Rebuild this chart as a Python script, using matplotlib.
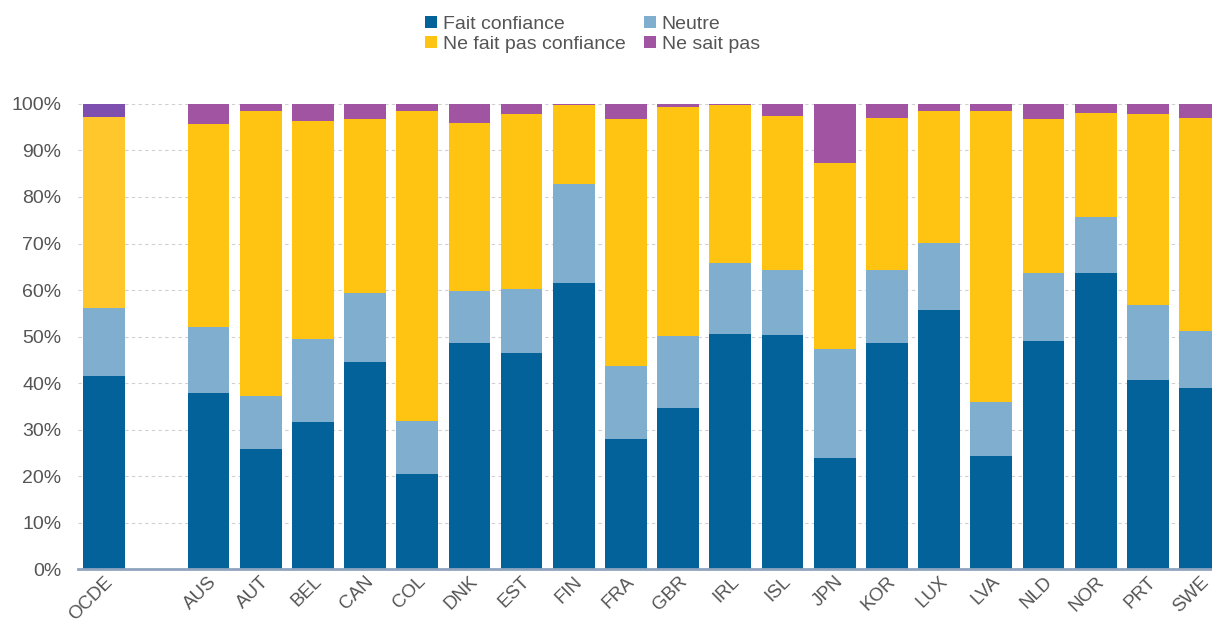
import matplotlib.pyplot as plt
import numpy as np

plt.rcParams['font.family'] = ['Liberation Sans', 'DejaVu Sans']

countries = ['OCDE', '', 'AUS', 'AUT', 'BEL', 'CAN', 'COL', 'DNK', 'EST', 'FIN', 'FRA',
             'GBR', 'IRL', 'ISL', 'JPN', 'KOR', 'LUX', 'LVA', 'NLD', 'NOR', 'PRT', 'SWE']
fait = [41.4, 0, 37.9, 25.7, 31.7, 44.6, 20.4, 48.7, 46.4, 61.4, 28.0,
        34.6, 50.5, 50.3, 23.9, 48.6, 55.8, 24.4, 49.1, 63.7, 40.6, 38.9]
neutre = [14.7, 0, 14.1, 11.6, 17.8, 14.7, 11.5, 11.1, 13.8, 21.5, 15.7,
          15.6, 15.2, 13.9, 23.5, 15.6, 14.3, 11.6, 14.6, 12.0, 16.2, 12.3]
pas_conf = [41.2, 0, 43.8, 61.3, 46.8, 37.5, 66.7, 36.2, 37.7, 16.9, 53.0,
            49.2, 34.0, 33.2, 39.9, 32.8, 28.5, 62.4, 33.1, 22.4, 41.1, 45.8]
ne_sait = [2.7, 0, 4.2, 1.4, 3.7, 3.2, 1.4, 4.0, 2.1, 0.2, 3.3,
           0.6, 0.3, 2.6, 12.7, 3.0, 1.4, 1.6, 3.2, 1.9, 2.1, 3.0]

series = [
    ('Fait confiance', fait, '#04629A', '#04629A'),
    ('Neutre', neutre, '#7FAECE', '#7FAECE'),
    ('Ne fait pas confiance', pas_conf, '#FFC312', '#FFC72C'),
    ('Ne sait pas', ne_sait, '#A154A1', '#7F4FAF'),
]

fig = plt.figure(figsize=(12.12, 6.22), dpi=100)
ax = fig.add_axes([0.0644, 0.0852, 0.9356, 0.7476])

x = np.arange(len(countries))
bottom = np.zeros(len(countries))
handles = []
for name, vals, col, ocde_col in series:
    vals = np.array(vals)
    colors = [ocde_col] + [col] * (len(countries) - 1)
    bars = ax.bar(x, vals, 0.8, bottom=bottom, color=colors, label=name, zorder=3)
    handles.append(bars.patches[2])
    bottom += vals

ax.set_ylim(0, 100)
ax.set_xlim(-0.5, 21.23)
ax.set_yticks(range(0, 101, 10))
ax.set_yticklabels([f'{v}%' for v in range(0, 101, 10)], fontsize=14, color='#555555')
ax.set_xticks(x)
ax.set_xticklabels(countries, rotation=45, ha='right', rotation_mode='anchor',
                   fontsize=13.5, color='#555555')
ax.tick_params(axis='y', length=0, pad=12)
ax.tick_params(axis='x', length=0, pad=3)

ax.grid(axis='y', linestyle=(0, (3, 3)), color='#d0d0d0', linewidth=0.8, zorder=0)
for s in ['top', 'right', 'left']:
    ax.spines[s].set_visible(False)
ax.spines['bottom'].set_color('#8FA4BF')
ax.spines['bottom'].set_linewidth(2)
ax.spines['bottom'].set_zorder(4)

labels = [s[0] for s in series]
order = [0, 2, 1, 3]
fig.legend([handles[i] for i in order], [labels[i] for i in order],
           loc='upper center', bbox_to_anchor=(0.489, 1.003), ncol=2, frameon=False,
           fontsize=14, handlelength=0.6, handleheight=0.6, handletextpad=0.3,
           columnspacing=0.95, labelspacing=0.15, labelcolor='#555555')

fig.savefig('out.png', dpi=100)
